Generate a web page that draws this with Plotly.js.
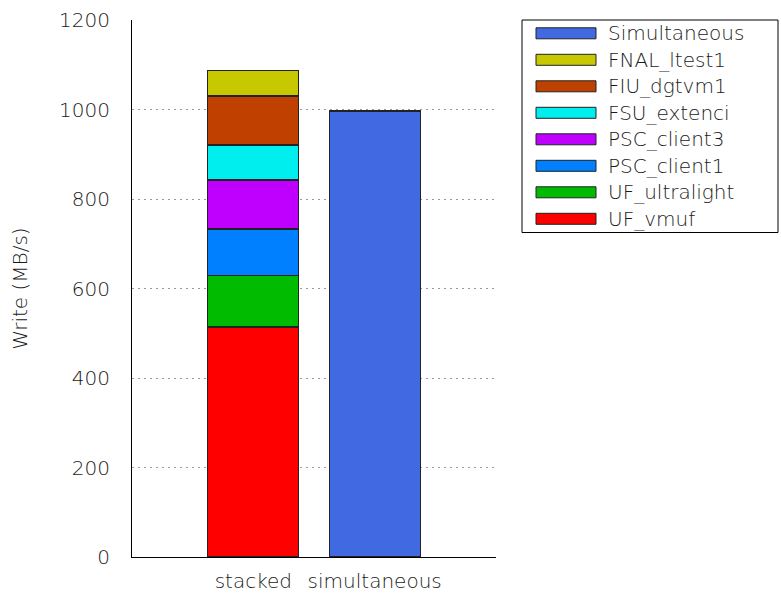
<!DOCTYPE html>
<html>
<head>
<meta charset="utf-8">
<script src="https://cdn.plot.ly/plotly-3.0.1.min.js"></script>
<style>html,body{margin:0;padding:0;background:#fff;}#chart{width:781px;height:594px;}</style>
</head>
<body>
<div id="chart"></div>
<script>
// ---- data ----
const categories = ['stacked', 'simultaneous'];
const stackNames = ['UF_vmuf', 'UF_ultralight', 'PSC_client1', 'PSC_client3', 'FSU_extenci', 'FIU_dgtvm1', 'FNAL_ltest1'];
const stackValues = [514, 115.5, 103.5, 109.5, 78, 109.5, 56.7];
const stackColors = ['#ff0000', '#00bb00', '#0080ff', '#c000ff', '#00eeee', '#c04000', '#c8c800'];
const simName = 'Simultaneous';
const simValue = 996.5;
const simColor = '#4169e1';
const yTickVals = [0, 200, 400, 600, 800, 1000, 1200];

const FONT = {family: 'DejaVu Sans', size: 20, color: '#1a1a1a', weight: 200};

const traces = [];
stackNames.forEach((n, i) => {
  traces.push({
    type: 'bar', name: n, x: [categories[0]], y: [stackValues[i]],
    marker: {color: stackColors[i], line: {color: '#222', width: 1.2}},
    showlegend: false, hoverinfo: 'name+y'
  });
});
traces.push({
  type: 'bar', name: simName, x: [categories[1]], y: [simValue],
  marker: {color: simColor, line: {color: '#222', width: 1.2}},
  showlegend: false, hoverinfo: 'name+y'
});

// custom legend (wide swatches), built from the series arrays
const legNames = [simName].concat(stackNames.slice().reverse());
const legColors = [simColor].concat(stackColors.slice().reverse());
const L = 132, R = 496, T = 20, B = 557;
const px = v => (v - L) / (R - L);
const py = v => (B - v) / (B - T);
const shapes = [{
  type: 'rect', xref: 'paper', yref: 'paper',
  x0: px(522), x1: px(778), y0: py(20), y1: py(232.5),
  line: {color: '#000', width: 1}, fillcolor: 'rgba(0,0,0,0)'
}];
const annotations = [];
legNames.forEach((n, i) => {
  const cy = 33.3 + i * 26.5;
  shapes.push({
    type: 'rect', xref: 'paper', yref: 'paper',
    x0: px(536), x1: px(596), y0: py(cy - 5.5), y1: py(cy + 5.5),
    line: {color: '#222', width: 1}, fillcolor: legColors[i]
  });
  annotations.push({
    xref: 'paper', yref: 'paper', x: px(606), y: py(cy),
    xanchor: 'left', yanchor: 'middle', showarrow: false, text: n,
    font: FONT
  });
});

const layout = {
  width: 781, height: 594,
  margin: {l: 132, r: 285, t: 20, b: 37},
  paper_bgcolor: '#fff', plot_bgcolor: '#fff',
  font: FONT,
  barmode: 'stack', bargap: 0.25,
  showlegend: false,
  xaxis: {
    type: 'category', categoryorder: 'array', categoryarray: categories,
    range: [-1, 2], showgrid: false, showline: true, linecolor: '#000', linewidth: 1,
    ticks: '', ticklabelstandoff: 6, zeroline: false, tickfont: FONT
  },
  yaxis: {
    range: [0, 1200], tickvals: yTickVals, showgrid: true, gridcolor: '#999',
    griddash: '2px,4px', gridwidth: 1, showline: true, linecolor: '#000', linewidth: 1,
    ticks: '', ticklabelstandoff: 17, zeroline: false, tickfont: FONT,
    title: {text: 'Write (MB/s)', standoff: 26, font: FONT}
  },
  shapes: shapes, annotations: annotations
};
Plotly.newPlot('chart', traces, layout, {displayModeBar: false, staticPlot: true});
</script>
</body>
</html>
